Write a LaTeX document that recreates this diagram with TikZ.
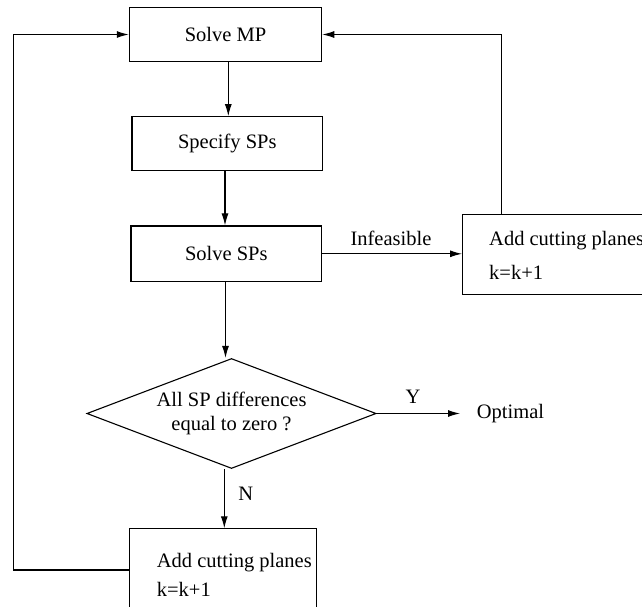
\documentclass[tikz,border=0pt]{standalone}
\usepackage{fontspec}
\setmainfont{Liberation Serif}
\usetikzlibrary{arrows.meta,shapes.geometric}
\begin{document}
\begin{tikzpicture}[x=1pt,y=-1pt,
  every node/.style={font=\fontsize{20.5}{23.7}\selectfont},
  box/.style={draw, line width=1.1pt, rectangle, inner sep=0pt},
  txt/.style={inner sep=0pt},
  conn/.style={line width=1.1pt},
  arr/.style={conn, -{Latex[length=12pt,width=7pt]}}]
\useasboundingbox (0,0) rectangle (642,607);
\clip (0,0) rectangle (642,607);
% boxes
\node[box, minimum width=192.4pt, minimum height=54.4pt] (mp) at (225.5,34.5) {Solve MP};
\node[box, minimum width=190.7pt, minimum height=54pt] (spec) at (227.3,143.7) {Specify SPs};
\node[box, minimum width=190.7pt, minimum height=55.7pt] (ssp) at (226.3,253.8) {Solve SPs};
\node[box, anchor=north west, minimum width=220pt, minimum height=79.7pt] (cut1) at (462,214.3) {};
\node[txt, anchor=west] (cut1a) at (489,241) {Add cutting planes};
\node[txt, anchor=west] (cut1b) at (489,272.7) {k=k+1};
\node[draw, line width=1.1pt, shape=diamond, aspect=2.63, inner sep=0pt,
      minimum width=289.3pt, minimum height=110pt, align=center] (dia) at (231.5,413.5)
      {All SP differences\\equal to zero ?};
\node[box, anchor=north west, minimum width=186.7pt, minimum height=110pt] (cut2) at (129.3,528.3) {};
\node[txt, anchor=west] (cut2a) at (156.7,563) {Add cutting planes};
\node[txt, anchor=west] (cut2b) at (156.7,589) {k=k+1};
\node[anchor=west, inner xsep=16.7pt, inner ysep=0pt] (opt) at (460,413.5) {Optimal};
% labels
\node[txt] (inf) at (391,238) {Infeasible};
\node[txt] (ylab) at (413,397) {Y};
\node[txt] (nlab) at (245.7,493.3) {N};
% coordinates
\coordinate (a1) at (228.3,0);
\coordinate (a2) at (225,0);
\coordinate (a3) at (225.5,0);
\coordinate (a4) at (224.3,0);
\coordinate (lc) at (13.3,570);
\coordinate (rc) at (501.7,34.5);
% connectors
\draw[arr] (mp.south -| a1) -- (spec.north -| a1);
\draw[arr] (spec.south -| a2) -- (ssp.north -| a2);
\draw[arr] (ssp.south -| a3) -- (dia.north -| a3);
\draw[arr] (dia.south -| a4) -- (cut2.north -| a4);
\draw[arr] (ssp.east) -- (ssp.east -| cut1.west);
\draw[arr] (dia.east) -- (opt.west);
\draw[arr] (cut1.north -| rc) -- (rc) -- (mp.east);
\draw[arr] (cut2.west |- lc) -- (lc) |- (mp.west);
\end{tikzpicture}
\end{document}
